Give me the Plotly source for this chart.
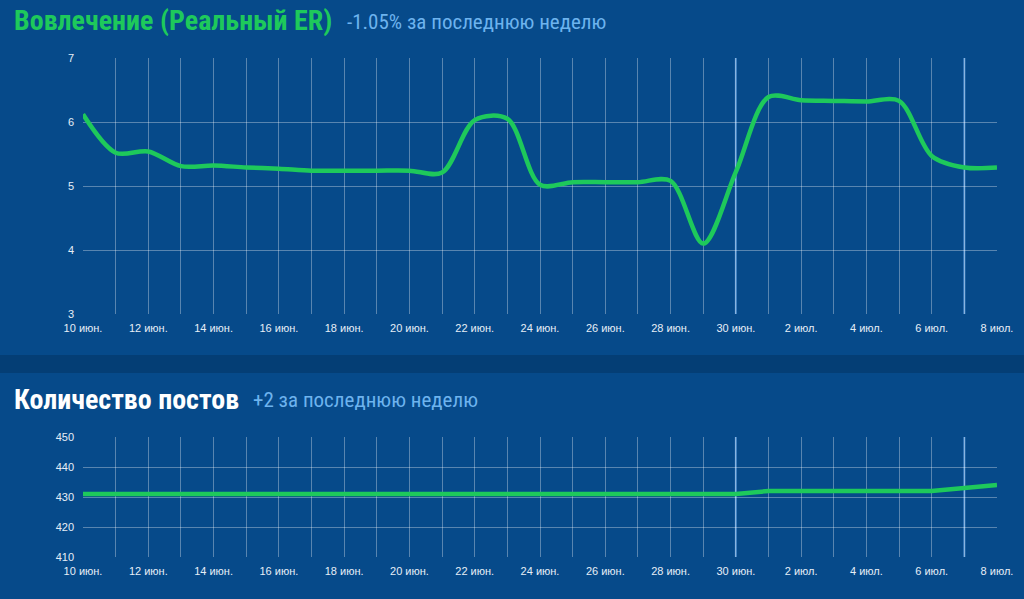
import plotly.graph_objects as go
import pandas as pd

# data
days = pd.date_range("2024-06-10", "2024-07-08", freq="D")
er_values = [6.12, 5.52, 5.54, 5.31, 5.32, 5.29, 5.27, 5.24, 5.24, 5.24,
             5.24, 5.21, 6.03, 6.05, 5.02, 5.06, 5.06, 5.06, 5.08, 4.10,
             5.22, 6.39, 6.34, 6.33, 6.32, 6.33, 5.47, 5.29, 5.29]
posts_values = [431] * 21 + [432, 432, 432, 432, 432, 432, 433, 434]
month_names = {6: "июн.", 7: "июл."}
tick_labels = [f"{d.day} {month_names[d.month]}" if i % 2 == 0 else "" for i, d in enumerate(days)]
week_marks = ["2024-06-30", "2024-07-07"]

PANEL = "#064a8a"
GAP = "#043e75"
GREEN = "#1ec95b"
GRID = "rgba(255,255,255,0.33)"
FONT = "Roboto Condensed, Liberation Sans Narrow, DejaVu Sans Condensed, sans-serif"
TICKFONT = dict(family="Liberation Sans, Arial", size=11, color="#e6eef7")

fig = go.Figure()
fig.add_trace(go.Scatter(x=days, y=er_values, mode="lines",
                         line=dict(color=GREEN, width=4.5, shape="spline", smoothing=0.9),
                         xaxis="x", yaxis="y", hoverinfo="x+y"))
fig.add_trace(go.Scatter(x=days, y=posts_values, mode="lines",
                         line=dict(color=GREEN, width=4.5),
                         xaxis="x2", yaxis="y2", hoverinfo="x+y"))

xdom = [83 / 1024, 997 / 1024]
xax = dict(type="date", range=[days[0], days[-1]], tickmode="array",
           tickvals=days, ticktext=tick_labels, showgrid=True, gridcolor=GRID,
           gridwidth=1, zeroline=False, showline=False, ticks="",
           tickfont=TICKFONT, ticklabelstandoff=6, automargin=False,
           domain=xdom, fixedrange=True)
yax = dict(showgrid=True, gridcolor=GRID, gridwidth=1, zeroline=False, ticks="",
           tickfont=TICKFONT, ticklabelstandoff=8, automargin=False,
           fixedrange=True)

fig.update_layout(
    width=1024, height=599,
    margin=dict(l=0, r=0, t=0, b=0, autoexpand=False),
    paper_bgcolor=GAP, plot_bgcolor="rgba(0,0,0,0)",
    showlegend=False,
    xaxis=dict(xax, anchor="y"),
    yaxis=dict(yax, range=[3, 7], dtick=1, domain=[1 - 314 / 599, 1 - 58 / 599], anchor="x"),
    xaxis2=dict(xax, anchor="y2"),
    yaxis2=dict(yax, range=[410, 450], dtick=10, domain=[1 - 557 / 599, 1 - 437 / 599], anchor="x2"),
)

# panel backgrounds
fig.add_shape(type="rect", xref="paper", yref="paper", x0=0, x1=1,
              y0=1 - 355 / 599, y1=1, fillcolor=PANEL, line_width=0, layer="below")
fig.add_shape(type="rect", xref="paper", yref="paper", x0=0, x1=1,
              y0=0, y1=1 - 373 / 599, fillcolor=PANEL, line_width=0, layer="below")

# week separators
for xr, yr in (("x", "y domain"), ("x2", "y2 domain")):
    for d in week_marks:
        fig.add_shape(type="line", xref=xr, yref=yr, x0=d, x1=d, y0=0, y1=1,
                      line=dict(color="#4f8fcf", width=2), layer="below")

# titles
fig.add_annotation(xref="paper", yref="paper", x=12 / 1024, y=1 - 21 / 599,
                   xanchor="left", yanchor="middle", showarrow=False,
                   text="<b>Вовлечение (Реальный ER)</b>",
                   font=dict(family=FONT, size=28, color=GREEN))
fig.add_annotation(xref="paper", yref="paper", x=345 / 1024, y=1 - 22 / 599,
                   xanchor="left", yanchor="middle", showarrow=False,
                   text="-1.05% за последнюю неделю",
                   font=dict(family=FONT, size=21, color="#6db3ee"))
fig.add_annotation(xref="paper", yref="paper", x=12 / 1024, y=1 - 399 / 599,
                   xanchor="left", yanchor="middle", showarrow=False,
                   text="<b>Количество постов</b>",
                   font=dict(family=FONT, size=28, color="#ffffff"))
fig.add_annotation(xref="paper", yref="paper", x=251 / 1024, y=1 - 400 / 599,
                   xanchor="left", yanchor="middle", showarrow=False,
                   text="+2 за последнюю неделю",
                   font=dict(family=FONT, size=21, color="#6db3ee"))

fig.write_html("out.html", config={"displayModeBar": False})

# drop the default page margin so the figure fills the window
with open("out.html", encoding="utf-8") as f:
    page = f.read()
page = page.replace("<body>", '<body style="margin:0">', 1)
with open("out.html", "w", encoding="utf-8") as f:
    f.write(page)
